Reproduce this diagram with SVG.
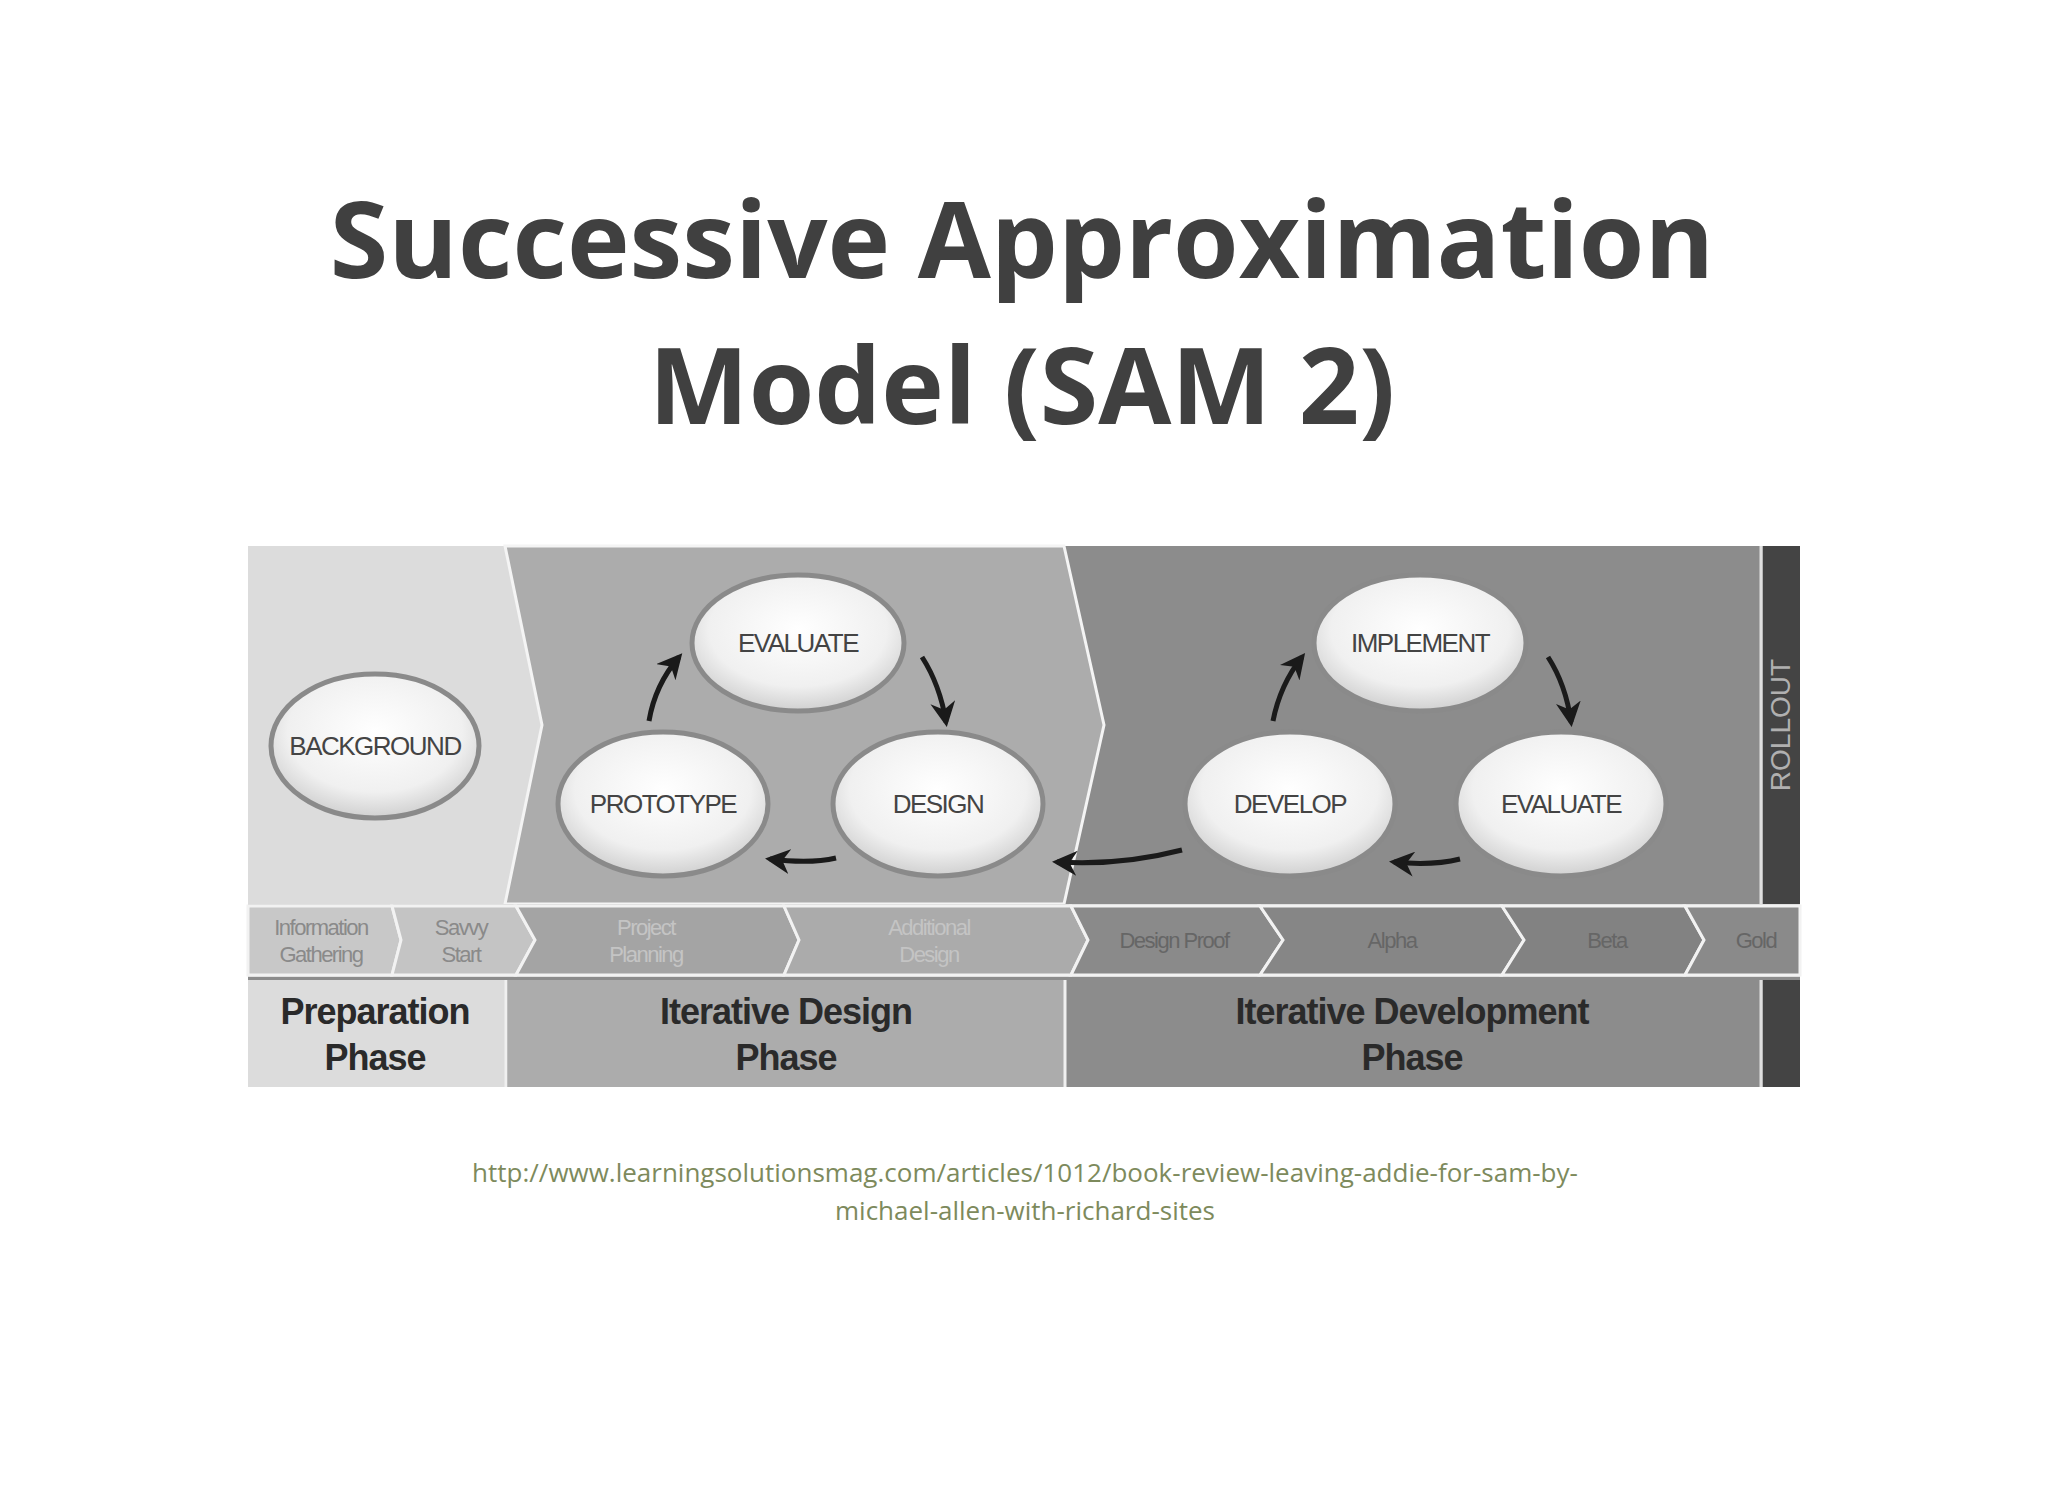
<svg xmlns="http://www.w3.org/2000/svg" width="2048" height="1494" viewBox="0 0 2048 1494">
<defs>
<radialGradient id="g" cx="0.5" cy="0.4" r="0.6"><stop offset="0" stop-color="#ffffff"/><stop offset="0.7" stop-color="#f0f0f0"/><stop offset="1" stop-color="#d0d0d0"/></radialGradient>
<marker id="ah" viewBox="0 0 10 10" refX="8" refY="5" markerWidth="5" markerHeight="5" orient="auto"><path d="M0,0 L10,5 L0,10 L3,5 z" fill="#1a1a1a"/></marker>
<style>
.title{font-family:"Open Sans",sans-serif;font-weight:bold;font-size:106px;fill:#404040;text-anchor:middle}
.url{font-family:"Open Sans",sans-serif;font-size:26px;fill:#7d8a5c;text-anchor:middle}
.node ellipse{fill:url(#g);stroke:#8a8a8a;stroke-width:5}
.node text{font-family:"Liberation Sans",sans-serif;font-size:26px;fill:#444;text-anchor:middle;letter-spacing:-1.5px}
.strip{font-family:"Liberation Sans",sans-serif;font-size:22px;text-anchor:middle;letter-spacing:-1.5px}
.phase{font-family:"Liberation Sans",sans-serif;font-weight:bold;font-size:36px;fill:#2a2a2a;text-anchor:middle;letter-spacing:-1px}
.conn path{fill:none;stroke:#1a1a1a;stroke-width:5;marker-end:url(#ah)}
</style>
</defs>
<rect width="2048" height="1494" fill="#ffffff"/>
<text class="title" x="1022" y="278">Successive Approximation</text>
<text class="title" x="1022" y="424">Model (SAM 2)</text>
<g id="bands">
<rect x="248" y="546" width="1552" height="541" fill="#8c8c8c"/>
<path d="M248,546 H505 L542,725 L505,904 H248 Z" fill="#dcdcdc"/>
<path d="M505,546 H1064 L1104,725 L1064,904 H505 L542,725 Z" fill="#acacac" stroke="#f4f4f4" stroke-width="3"/>
<rect x="1763" y="546" width="37" height="358" fill="#444"/>
<rect x="248" y="980" width="257" height="107" fill="#dcdcdc"/>
<rect x="508" y="980" width="556" height="107" fill="#acacac"/>
<rect x="1067" y="980" width="693" height="107" fill="#8c8c8c"/>
<rect x="1763" y="980" width="37" height="107" fill="#444"/>
<line x1="506" y1="980" x2="506" y2="1087" stroke="#f0f0f0" stroke-width="3"/>
<line x1="1065" y1="980" x2="1065" y2="1087" stroke="#f0f0f0" stroke-width="3"/>
<line x1="1761" y1="546" x2="1761" y2="904" stroke="#e0e0e0" stroke-width="3"/>
<line x1="1761" y1="980" x2="1761" y2="1087" stroke="#e0e0e0" stroke-width="3"/>
<text x="1783" y="725" transform="rotate(-90 1783 725)" font-family="Liberation Sans, sans-serif" font-size="28" fill="#b0b0b0" text-anchor="middle" dominant-baseline="middle">ROLLOUT</text>
</g>
<g id="strip" stroke="#f2f2f2" stroke-width="3">
<rect x="248" y="904" width="1552" height="73" fill="#d0d0d0" stroke="none"/>
<path d="M248,906 H392 L401,940 L392,975 H248 Z" fill="#c8c8c8"/>
<path d="M392,906 H516 L535,940 L516,975 H392 L401,940 Z" fill="#c4c4c4"/>
<path d="M516,906 H784 L799,940 L784,975 H516 L535,940 Z" fill="#a4a4a4"/>
<path d="M784,906 H1071 L1088,940 L1071,975 H784 L799,940 Z" fill="#ababab"/>
<path d="M1071,906 H1260 L1283,940 L1260,975 H1071 L1088,940 Z" fill="#8a8a8a"/>
<path d="M1260,906 H1502 L1524,940 L1502,975 H1260 L1283,940 Z" fill="#868686"/>
<path d="M1502,906 H1685 L1704,940 L1685,975 H1502 L1524,940 Z" fill="#828282"/>
<path d="M1685,906 H1800 V975 H1685 L1704,940 Z" fill="#8a8a8a"/>
</g>
<g id="strip-labels" class="strip">
<text x="321" y="935" fill="#8a8a8a">Information</text><text x="321" y="962" fill="#8a8a8a">Gathering</text>
<text x="461" y="935" fill="#8a8a8a">Savvy</text><text x="461" y="962" fill="#8a8a8a">Start</text>
<text x="646" y="935" fill="#c4c4c4">Project</text><text x="646" y="962" fill="#c4c4c4">Planning</text>
<text x="929" y="935" fill="#c4c4c4">Additional</text><text x="929" y="962" fill="#c4c4c4">Design</text>
<text x="1174" y="948" fill="#666">Design Proof</text>
<text x="1392" y="948" fill="#666">Alpha</text>
<text x="1607" y="948" fill="#666">Beta</text>
<text x="1756" y="948" fill="#666">Gold</text>
</g>
<g id="phases" class="phase">
<text x="375" y="1024">Preparation</text><text x="375" y="1070">Phase</text>
<text x="786" y="1024">Iterative Design</text><text x="786" y="1070">Phase</text>
<text x="1412" y="1024">Iterative Development</text><text x="1412" y="1070">Phase</text>
</g>
<g id="background" class="node"><ellipse cx="375" cy="746" rx="104" ry="72"/><text x="375" y="755">BACKGROUND</text></g>
<g id="evaluate1" class="node"><ellipse cx="798" cy="643" rx="106" ry="68"/><text x="798" y="652">EVALUATE</text></g>
<g id="prototype" class="node"><ellipse cx="663" cy="804" rx="105" ry="72"/><text x="663" y="813">PROTOTYPE</text></g>
<g id="design" class="node"><ellipse cx="938" cy="804" rx="105" ry="72"/><text x="938" y="813">DESIGN</text></g>
<g id="implement" class="node"><ellipse cx="1420" cy="643" rx="106" ry="68"/><text x="1420" y="652">IMPLEMENT</text></g>
<g id="develop" class="node"><ellipse cx="1290" cy="804" rx="105" ry="72"/><text x="1290" y="813">DEVELOP</text></g>
<g id="evaluate2" class="node"><ellipse cx="1561" cy="804" rx="105" ry="72"/><text x="1561" y="813">EVALUATE</text></g>
<g id="connectors" class="conn">
<path d="M649,721 Q655,685 679,657"/>
<path d="M922,657 Q940,685 946,722"/>
<path d="M836,858 Q810,864 770,859"/>
<path d="M1182,850 Q1120,866 1057,862"/>
<path d="M1273,721 Q1280,685 1302,657"/>
<path d="M1548,657 Q1566,685 1571,722"/>
<path d="M1460,859 Q1432,866 1394,862"/>
</g>
<text class="url" x="1025" y="1182">http://www.learningsolutionsmag.com/articles/1012/book-review-leaving-addie-for-sam-by-</text>
<text class="url" x="1025" y="1220">michael-allen-with-richard-sites</text>
</svg>
